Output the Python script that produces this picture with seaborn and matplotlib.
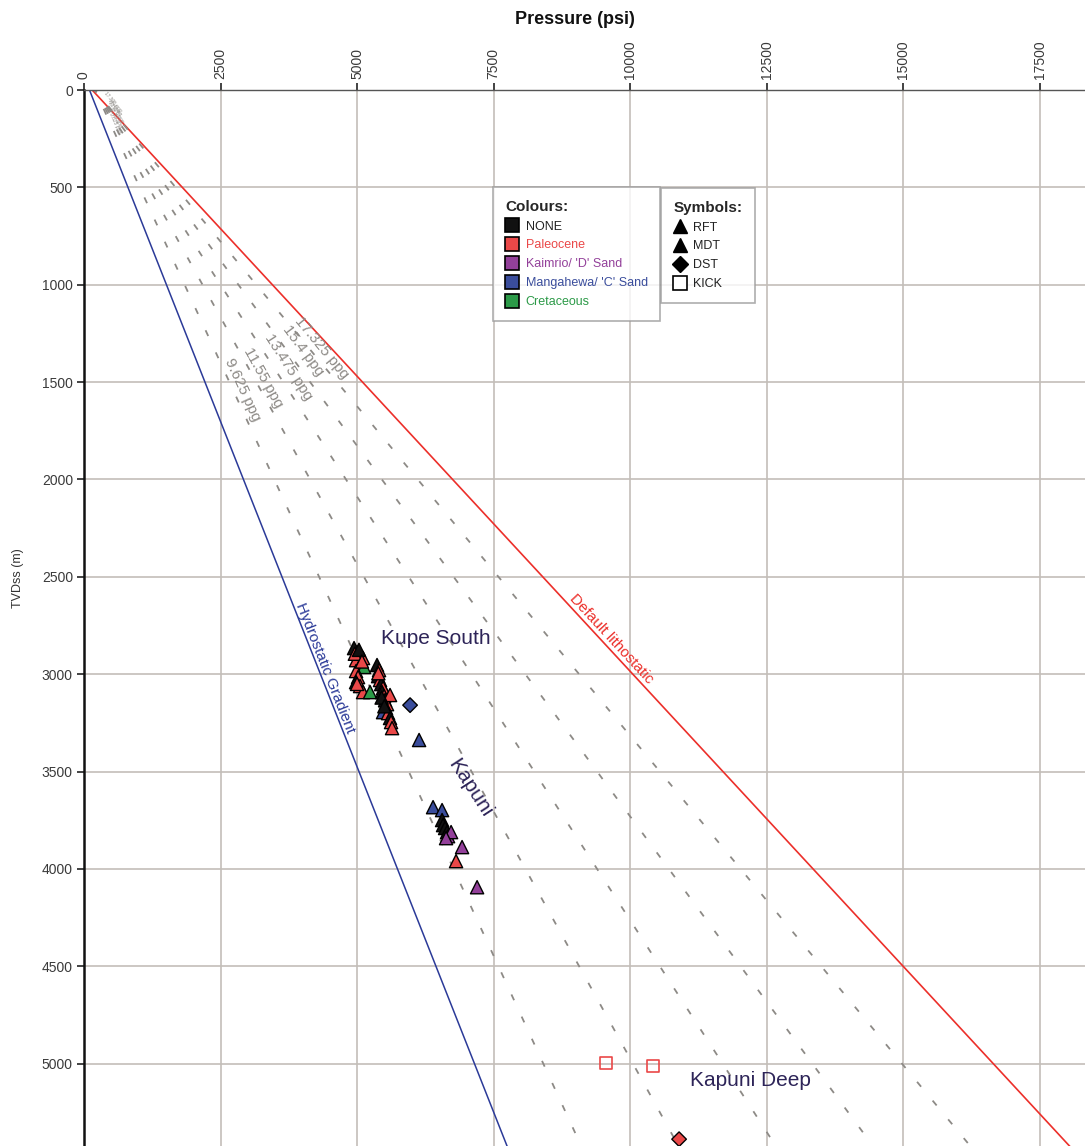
import numpy as np
import pandas as pd
import matplotlib
matplotlib.use("Agg")
import matplotlib.pyplot as plt
from matplotlib.lines import Line2D
import seaborn as sns

# ---------------- data ----------------
# gradients (psi per metre) and surface offsets (psi)
hydro_grad = 1.41
hydro_p0 = 100
litho_grad = 3.30
litho_p0 = 150
ppg_values = [9.625, 11.55, 13.475, 15.4, 17.325]
ppg_p0 = 200
ppg_label_p = [2894, 3278, 3736, 4011, 4359]
ppg_label_d = [1541, 1479, 1423, 1340, 1325]
ppg_small_p = [560, 580, 590, 560, 520]
ppg_small_d = [170, 140, 115, 90, 60]

# formation pressure measurements
pressure = [4945, 5000, 5055, 5110, 4982, 5073, 5128, 4982, 5018, 4982, 5055, 5110, 5238,
            4960, 5035, 5090, 5000,
            5366, 5403, 5385, 5421, 5440, 5476, 5458, 5495, 5513, 5549, 5531, 5476, 5568,
            5604, 5623, 5641, 5604, 5390, 5450, 5500,
            5971, 6136,
            6392, 6557, 6557, 6575, 6612, 6648, 6667, 6722, 6630, 6923, 6813, 7198,
            9560, 10421, 10897]
depth = [2866, 2887, 2902, 2917, 2928, 2943, 2963, 2984, 3015, 3041, 3061, 3092, 3092,
         2895, 2875, 2935, 3050,
         2953, 2979, 3010, 3030, 3051, 3071, 3092, 3113, 3133, 3154, 3174, 3195, 3200,
         3225, 3246, 3277, 3107, 2995, 3120, 3165,
         3159, 3338,
         3683, 3698, 3749, 3775, 3790, 3811, 3832, 3811, 3842, 3888, 3960, 4094,
         4998, 5013, 5388]
unit = ["NONE", "Paleocene", "NONE", "Paleocene", "Paleocene", "NONE", "Cretaceous", "Paleocene",
        "Paleocene", "NONE", "Paleocene", "Paleocene", "Cretaceous",
        "Paleocene", "NONE", "Paleocene", "Paleocene",
        "NONE", "Paleocene", "NONE", "Paleocene", "NONE", "Paleocene", "NONE", "Paleocene",
        "NONE", "Paleocene", "NONE", "Mangahewa/ 'C' Sand", "Paleocene",
        "NONE", "Paleocene", "Paleocene", "Paleocene", "Paleocene", "NONE", "NONE",
        "Mangahewa/ 'C' Sand", "Mangahewa/ 'C' Sand",
        "Mangahewa/ 'C' Sand", "Mangahewa/ 'C' Sand", "NONE", "NONE", "NONE", "NONE",
        "Kaimrio/ 'D' Sand", "Kaimrio/ 'D' Sand", "Kaimrio/ 'D' Sand", "Kaimrio/ 'D' Sand",
        "Paleocene", "Kaimrio/ 'D' Sand",
        "Paleocene", "Paleocene", "Paleocene"]
test = (["RFT"] * 37 + ["DST", "MDT"] + ["MDT"] * 12 + ["KICK", "KICK", "DST"])

unit_names = ["NONE", "Paleocene", "Kaimrio/ 'D' Sand", "Mangahewa/ 'C' Sand", "Cretaceous"]
unit_colors = ["#111111", "#ea4848", "#93409a", "#3a4d9c", "#2c9a48"]
symbol_names = ["RFT", "MDT", "DST", "KICK"]

xticks = [0, 2500, 5000, 7500, 10000, 12500, 15000, 17500]
yticks = [0, 500, 1000, 1500, 2000, 2500, 3000, 3500, 4000, 4500, 5000]

# ---------------- figure ----------------
sns.set_theme(style="white")
plt.rcParams['font.family'] = ['Liberation Sans', 'DejaVu Sans']

W, H = 1085, 1146
fig = plt.figure(figsize=(W / 100, H / 100), dpi=100)
ax = fig.add_axes([84 / W, 0, 1001 / W, 1056 / H])
XMAX, YMAX = 18330, 5423

df = pd.DataFrame({"pressure": pressure, "depth": depth, "unit": unit, "test": test})
palette = dict(zip(unit_names, unit_colors))

# reference lines
dgrid = np.array([0, 5600])
sns.lineplot(x=hydro_p0 + hydro_grad * dgrid, y=dgrid, ax=ax, color="#2b3a98", lw=1.1,
             sort=False, estimator=None)
sns.lineplot(x=litho_p0 + litho_grad * dgrid, y=dgrid, ax=ax, color="#ec2f2a", lw=1.2,
             sort=False, estimator=None)
for ppg in ppg_values:
    g = 0.052 * ppg * 3.28084
    sns.lineplot(x=ppg_p0 + g * dgrid, y=dgrid, ax=ax, color="#8d8a86", lw=1.3,
                 sort=False, estimator=None, linestyle=(2, (3.5, 10)))

# points
tri = df[df.test.isin(["RFT", "MDT"])]
sns.scatterplot(data=tri, x="pressure", y="depth", hue="unit", palette=palette, marker="^",
                s=90, edgecolor="black", linewidth=1.0, ax=ax, legend=False, zorder=5)
dst = df[df.test == "DST"]
sns.scatterplot(data=dst, x="pressure", y="depth", hue="unit", palette=palette, marker="D",
                s=55, edgecolor="black", linewidth=1.0, ax=ax, legend=False, zorder=5)
kick = df[df.test == "KICK"]
sns.scatterplot(data=kick, x="pressure", y="depth", marker="s", s=75, color="none",
                edgecolor="#ea4848", linewidth=1.2, ax=ax, legend=False, zorder=5)

# axes styling
ax.set_xlim(0, XMAX)
ax.set_ylim(YMAX, 0)
ax.xaxis.tick_top()
ax.set_xticks(xticks)
ax.set_yticks(yticks)
ax.set_xticklabels([str(v) for v in xticks], rotation=90, fontsize=10, color="#3a3a3a")
ax.set_yticklabels([str(v) for v in yticks], fontsize=10, color="#3a3a3a")
ax.tick_params(axis="both", direction="out", length=5, width=1.2, color="#222222", pad=3)
ax.tick_params(axis="x", top=True, bottom=False)
ax.tick_params(axis="y", left=True)
ax.grid(True, color="#c3beb9", lw=1.2)
ax.set_axisbelow(True)
for s in ["right", "bottom"]:
    ax.spines[s].set_visible(False)
ax.spines["left"].set_color("#111111")
ax.spines["left"].set_linewidth(1.8)
ax.spines["top"].set_color("#555555")
ax.spines["top"].set_linewidth(1.0)
ax.set_xlabel("")
ax.set_ylabel("")

fig.text(575 / W, 1 - 20 / H, "Pressure (psi)", ha="center", va="center", fontsize=13,
         fontweight="bold", color="#111111")
fig.text(18 / W, 1 - 578 / H, "TVDss (m)", ha="center", va="center", rotation=90,
         fontsize=9, color="#333333")

# annotations
def ang(g):
    return -np.degrees(np.arctan2(1.0, g * (1001 / XMAX) / (1056 / YMAX)))

for ppg, px, dy in zip(ppg_values, ppg_label_p, ppg_label_d):
    g = 0.052 * ppg * 3.28084
    ax.text(px, dy, f"{ppg:g} ppg", rotation=ang(g), rotation_mode="anchor",
            ha="center", va="center", fontsize=11, color="#8d8a86")
for ppg, px, dy in zip(ppg_values, ppg_small_p, ppg_small_d):
    g = 0.052 * ppg * 3.28084
    ax.text(px, dy, f"{ppg:g} ppg", rotation=ang(g), rotation_mode="anchor",
            ha="center", va="center", fontsize=3.5, color="#8d8a86")

ax.text(4420, 2970, "Hydrostatic Gradient", rotation=ang(hydro_grad), ha="center",
        va="center", fontsize=11, color="#2b3a98", rotation_mode="anchor")
ax.text(9650, 2820, "Default lithostatic", rotation=ang(litho_grad), ha="center",
        va="center", fontsize=11, color="#ec2f2a", rotation_mode="anchor")
ax.text(6450, 2815, "Kupe South", ha="center", va="center", fontsize=15, color="#2d2458")
ax.text(7070, 3585, "Kapuni", rotation=-57, ha="center", va="center", fontsize=15,
        color="#2d2458", rotation_mode="anchor")
ax.text(12200, 5085, "Kapuni Deep", ha="center", va="center", fontsize=15, color="#2d2458")

# legends
colour_handles = [Line2D([], [], marker="s", ls="none", markersize=10, markerfacecolor=c,
                         markeredgecolor="black", markeredgewidth=1.2) for c in unit_colors]
leg1 = ax.legend(colour_handles, unit_names, title="Colours:", loc="upper left",
                 bbox_to_anchor=(0.4086, 0.908), fontsize=9, title_fontsize=11,
                 frameon=True, fancybox=False, edgecolor="#9a9a9a", borderpad=1.0,
                 handletextpad=0.6, labelspacing=0.55, handlelength=1.0, borderaxespad=0)
leg1._legend_box.align = "left"
leg1.get_title().set_fontweight("bold")
leg1.get_frame().set_linewidth(1.2)
for t, c in zip(leg1.get_texts(), ["#222222"] + unit_colors[1:]):
    t.set_color(c)
ax.add_artist(leg1)

sym_handles = [
    Line2D([], [], marker="^", ls="none", markersize=10, color="black"),
    Line2D([], [], marker="^", ls="none", markersize=10, color="black"),
    Line2D([], [], marker="D", ls="none", markersize=8, color="black"),
    Line2D([], [], marker="s", ls="none", markersize=10, markerfacecolor="white",
           markeredgecolor="black", markeredgewidth=1.2),
]
leg2 = ax.legend(sym_handles, symbol_names, title="Symbols:", loc="upper left",
                 bbox_to_anchor=(0.5764, 0.907), fontsize=9, title_fontsize=11,
                 frameon=True, fancybox=False, edgecolor="#9a9a9a", borderpad=1.0,
                 handletextpad=0.6, labelspacing=0.55, handlelength=1.0, borderaxespad=0)
leg2._legend_box.align = "left"
leg2.get_title().set_fontweight("bold")
leg2.get_frame().set_linewidth(1.2)
for t in leg2.get_texts():
    t.set_color("#222222")

fig.savefig("out.png", dpi=100, facecolor="white")
